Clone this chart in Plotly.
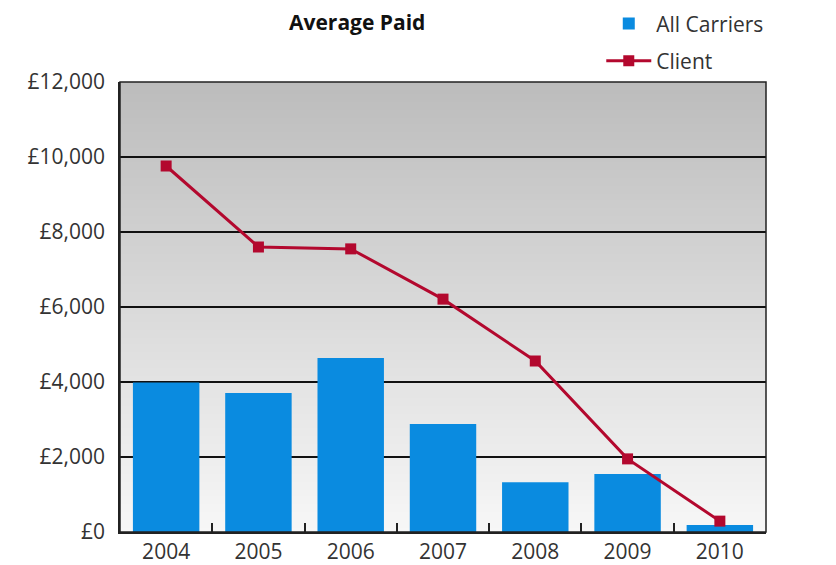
import plotly.graph_objects as go

years = ["2004", "2005", "2006", "2007", "2008", "2009", "2010"]
all_carriers = [3990, 3710, 4640, 2880, 1330, 1550, 190]
client = [9760, 7600, 7550, 6210, 4560, 1950, 290]
y_ticks = [0, 2000, 4000, 6000, 8000, 10000, 12000]
y_ticktext = ["£{:,}".format(v) for v in y_ticks]

FONT = "Open Sans"

fig = go.Figure()
fig.add_trace(go.Bar(x=years, y=all_carriers, name="All Carriers", legendgroup="a",
                     marker=dict(color="#0a8be0", line=dict(width=0))))
fig.add_trace(go.Scatter(x=years, y=client, name="Client", mode="lines+markers",
                         legendgroup="b",
                         line=dict(color="#b3082e", width=3),
                         marker=dict(symbol="square", size=11, color="#b3082e")))

# vertical grey gradient background of plot area
n = 225
top = (188, 188, 188)
bot = (247, 247, 247)
shapes = []
for i in range(n):
    t = i / (n - 1)
    c = tuple(round(top[k] + (bot[k] - top[k]) * t) for k in range(3))
    shapes.append(dict(type="rect", xref="x domain", yref="y domain",
                       x0=0, x1=1, y0=1 - (i + 1.3) / n, y1=1 - i / n,
                       fillcolor="rgb(%d,%d,%d)" % c, line=dict(width=0),
                       layer="below"))
# frame
shapes.append(dict(type="rect", xref="x domain", yref="y domain", x0=0, x1=1,
                   y0=0, y1=1, line=dict(color="#222", width=1.5), layer="above"))

fig.update_layout(
    width=836, height=565,
    margin=dict(l=120, r=70, t=82, b=33, autoexpand=False),
    paper_bgcolor="white", plot_bgcolor="rgba(0,0,0,0)",
    shapes=shapes,
    bargap=0.28,
    font=dict(family=FONT, color="#333", size=21),
    showlegend=True,
    legend=dict(x=0.745, y=1.175, xanchor="left", yanchor="top",
                bgcolor="rgba(0,0,0,0)", font=dict(size=21, color="#333"),
                itemwidth=45, tracegroupgap=7),
    annotations=[dict(text="<b>Average Paid</b>", x=(357 - 120) / 646, xref="paper",
                      y=1.133, yref="paper", yanchor="middle", showarrow=False,
                      font=dict(size=21, color="#111"))],
    xaxis=dict(type="category", tickson="boundaries", ticks="inside", ticklen=9,
               tickwidth=1.5, tickcolor="#222", showgrid=False,
               showline=True, linecolor="#222", linewidth=1.5,
               tickfont=dict(size=21, color="#333")),
    yaxis=dict(range=[0, 12000], tickmode="array", tickvals=y_ticks, ticktext=y_ticktext,
               showgrid=True, gridcolor="#111", gridwidth=1.5, zeroline=False,
               showline=True, linecolor="#222", linewidth=1.5, ticks="",
               ticklabelstandoff=9, tickfont=dict(size=21, color="#333")),
)
fig.write_html("out.html", config={"displayModeBar": False},
               post_script="document.body.style.margin='0';")
